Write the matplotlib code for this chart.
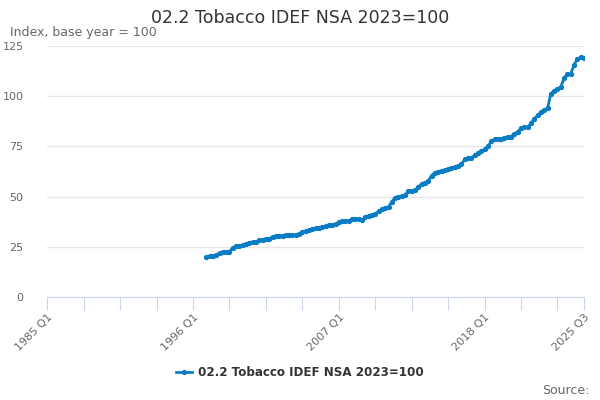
import matplotlib
matplotlib.use("Agg")
import matplotlib.pyplot as plt

# quarters 1985 Q1 .. 2025 Q3
quarters = [f"{y} Q{q}" for y in range(1985, 2026) for q in range(1, 5)][:163]

first_index = 48  # 1997 Q1, series has no data before this
tobacco = [
    19.8, 20.2, 20.5, 20.8,      # 1997
    22.0, 22.2, 22.4, 22.6,      # 1998
    24.6, 25.4, 25.5, 25.7,      # 1999
    26.2, 27.0, 27.2, 27.5,      # 2000
    28.2, 28.6, 28.9, 29.1,      # 2001
    30.0, 30.3, 30.5, 30.6,      # 2002
    30.9, 31.0, 30.7, 30.9,      # 2003
    31.5, 32.3, 32.8, 33.2,      # 2004
    33.8, 34.2, 34.4, 34.7,      # 2005
    35.3, 35.8, 36.0, 36.3,      # 2006
    37.2, 37.7, 37.8, 38.0,      # 2007
    38.6, 39.0, 39.0, 38.4,      # 2008
    39.8, 40.5, 41.0, 41.3,      # 2009
    42.8, 43.6, 44.3, 44.8,      # 2010
    47.5, 49.5, 50.0, 50.3,      # 2011
    50.8, 52.8, 53.0, 53.2,      # 2012
    54.8, 56.3, 57.0, 57.8,      # 2013
    60.5, 62.0, 62.5, 62.9,      # 2014
    63.3, 63.6, 64.0, 64.5,      # 2015
    65.2, 66.0, 68.5, 69.1,      # 2016
    69.2, 70.5, 71.5, 72.8,      # 2017
    73.5, 75.0, 77.5, 78.5,      # 2018
    78.5, 78.7, 79.3, 79.8,      # 2019
    79.9, 81.2, 82.3, 84.0,      # 2020
    84.5, 84.6, 86.5, 88.7,      # 2021
    90.5, 92.0, 93.2, 94.0,      # 2022
    101.3, 102.7, 103.8, 104.5,  # 2023
    109.0, 111.0, 111.2, 115.5,  # 2024
    118.6, 119.3, 119.2,         # 2025
]

label_ticks = ["1985 Q1", "1996 Q1", "2007 Q1", "2018 Q1", "2025 Q3"]
y_ticks = [0, 25, 50, 75, 100, 125]

line_color = "#0a7cc4"
grey = "#666666"

fig = plt.figure(figsize=(6, 4), dpi=100)
ax = fig.add_axes([0.0788, 0.2575, 0.8945, 0.6275])

xs = list(range(first_index, first_index + len(tobacco)))
ax.plot(xs, tobacco, color=line_color, lw=2, marker="o", ms=2.8,
        label="02.2 Tobacco IDEF NSA 2023=100", zorder=3)

ax.set_xlim(0, len(quarters) - 1)
ax.set_ylim(0, 125)

ax.set_yticks(y_ticks)
ax.set_yticklabels([str(v) for v in y_ticks], color=grey, fontsize=8)
ax.tick_params(axis="y", length=0, pad=17)
ax.yaxis.grid(True, color="#e6e6e6", lw=1)
ax.set_axisbelow(True)

tick_pos = list(range(0, len(quarters), 11)) + [len(quarters) - 1]
ax.set_xticks(tick_pos)
ax.set_xticklabels([quarters[p] if quarters[p] in label_ticks else "" for p in tick_pos],
                   rotation=45, ha="right", rotation_mode="anchor",
                   color=grey, fontsize=8)
ax.tick_params(axis="x", length=9, color="#ccd6eb", pad=2)

for s in ["top", "right", "left"]:
    ax.spines[s].set_visible(False)
ax.spines["bottom"].set_color("#ccd6eb")

fig.text(0.5, 0.955, "02.2 Tobacco IDEF NSA 2023=100", ha="center", va="center",
         fontsize=12.5, color="#333333")
fig.text(0.017, 0.918, "Index, base year = 100", ha="left", va="center",
         fontsize=9, color=grey)
fig.text(0.982, 0.025, "Source:", ha="right", va="center", fontsize=9, color=grey)

leg = fig.legend(loc="center", bbox_to_anchor=(0.5, 0.068), frameon=False,
                 handlelength=1.3, handletextpad=0.5,
                 prop={"weight": "bold", "size": 8.6})
for t in leg.get_texts():
    t.set_color("#333333")

fig.savefig("out.png", dpi=100)
